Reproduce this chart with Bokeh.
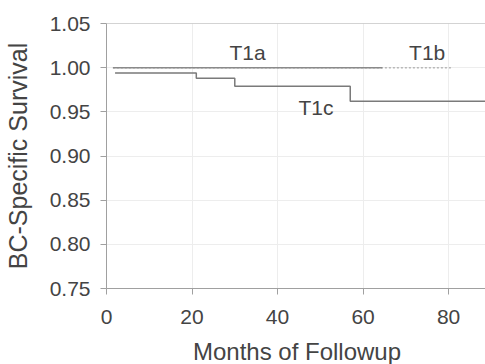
from bokeh.plotting import figure
from bokeh.models import Range1d, FixedTicker, Span, ColumnDataSource, NumeralTickFormatter
from bokeh.core.properties import value
from bokeh.embed import file_html
from bokeh.resources import INLINE

# data
t1a_months = [1.5, 64.5]
t1a_surv = [1.0, 1.0]
t1b_months = [1.5, 81.0]
t1b_surv = [1.0, 1.0]
t1c_months = [2.0, 21.0, 30.0, 57.0, 89.1]
t1c_surv = [0.994, 0.988, 0.979, 0.962, 0.962]
label_text = ["T1a", "T1b", "T1c"]
label_x = [33.0, 75.0, 49.0]
label_y = [1.017, 1.017, 0.955]
x_ticks = [0, 20, 40, 60, 80]
y_ticks = [0.75, 0.80, 0.85, 0.90, 0.95, 1.00, 1.05]

FONT = "Liberation Sans"
TXT = "#444444"

p = figure(frame_width=381, frame_height=265, output_backend="svg", toolbar_location=None,
           x_range=Range1d(0, 89.1), y_range=Range1d(0.75, 1.05),
           min_border_left=104, min_border_right=0, min_border_top=23, min_border_bottom=76)
p.outline_line_color = None
p.background_fill_color = "white"
p.border_fill_color = "white"

for ax in (p.xaxis[0], p.yaxis[0]):
    ax.axis_line_color = "#a0a0a0"
    ax.major_tick_line_color = "#a0a0a0"
    ax.minor_tick_line_color = None
    ax.major_tick_in = 0
    ax.major_tick_out = 6
    ax.major_label_text_font = FONT
    ax.major_label_text_font_size = "21px"
    ax.major_label_text_color = TXT
    ax.axis_label_text_font = FONT
    ax.axis_label_text_font_style = "normal"
    ax.axis_label_text_color = TXT

p.xaxis.ticker = FixedTicker(ticks=x_ticks)
p.yaxis.ticker = FixedTicker(ticks=y_ticks)
p.yaxis.formatter = NumeralTickFormatter(format="0.00")
p.xaxis.major_label_standoff = 15
p.yaxis.major_label_standoff = 10
p.xaxis.axis_label = "Months of Followup"
p.yaxis.axis_label = "BC-Specific Survival"
p.xaxis.axis_label_text_font_size = "24px"
p.yaxis.axis_label_text_font_size = "25px"
p.xaxis.axis_label_standoff = 11
p.yaxis.axis_label_standoff = 15

p.grid.grid_line_color = "#ededed"
p.grid.grid_line_width = 1

p.add_layout(Span(location=1.05, dimension="width", line_color="#a8a8a8", line_width=1))

p.line(t1b_months, t1b_surv, line_color="#b8b8b8", line_width=1.5, line_dash="2 2")
p.line(t1a_months, t1a_surv, line_color="#8a8a8a", line_width=1.5)
p.step(t1c_months, t1c_surv, mode="after", line_color="#7a7a7a", line_width=1.5)

src = ColumnDataSource(dict(x=label_x, y=label_y, t=label_text))
p.text(x="x", y="y", text="t", source=src, text_font=value(FONT), text_font_size="21px",
       text_color=TXT, text_align="center", text_baseline="middle")

open("out.html", "w").write(file_html(p, INLINE))
